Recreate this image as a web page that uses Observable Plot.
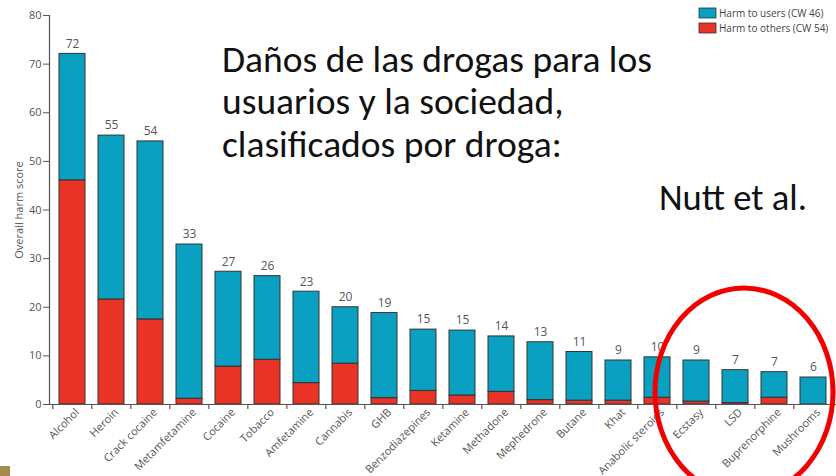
<!DOCTYPE html>
<html>
<head>
<meta charset="utf-8">
<script src="https://cdn.jsdelivr.net/npm/d3@7"></script>
<script src="https://cdn.jsdelivr.net/npm/@observablehq/plot@0.6"></script>
<style>
  html, body { margin: 0; padding: 0; background: #fff; }
  #chart { position: relative; width: 836px; height: 476px; overflow: hidden; }
</style>
</head>
<body>
<div id="chart"></div>
<script>
const drugs = ["Alcohol","Heroin","Crack cocaine","Metamfetamine","Cocaine","Tobacco","Amfetamine","Cannabis","GHB","Benzodiazepines","Ketamine","Methadone","Mephedrone","Butane","Khat","Anabolic steroids","Ecstasy","LSD","Buprenorphine","Mushrooms"];
const harmUsers  = [26.0, 33.7, 36.6, 31.7, 19.5, 17.2, 18.8, 11.6, 17.5, 12.6, 13.35, 11.4, 11.9, 10.0, 8.25, 8.3, 8.45, 6.76, 5.25, 5.55];
const harmOthers = [46.1, 21.6, 17.5, 1.2, 7.8, 9.2, 4.4, 8.4, 1.3, 2.8, 1.85, 2.6, 0.9, 0.8, 0.8, 1.4, 0.6, 0.3, 1.4, 0];
const totalLabels = [72, 55, 54, 33, 27, 26, 23, 20, 19, 15, 15, 14, 13, 11, 9, 10, 9, 7, 7, 6];
const yTicks = [0, 10, 20, 30, 40, 50, 60, 70, 80];
const seriesNames = ["Harm to users (CW 46)", "Harm to others (CW 54)"];
const seriesColors = ["#0aa0c2", "#ea3327"];
const titleLines = ["Daños de las drogas para los", "usuarios y la sociedad,", "clasificados por droga:"];
const authorText = "Nutt et al.";

const rows = [];
drugs.forEach((d, i) => rows.push({drug: d, series: seriesNames[1], value: harmOthers[i]}));
drugs.forEach((d, i) => rows.push({drug: d, series: seriesNames[0], value: harmUsers[i]}));
const totals = drugs.map((d, i) => ({drug: d, total: harmUsers[i] + harmOthers[i], label: String(totalLabels[i])}));

const axisColor = "#555";
const chartFont = "'Open Sans', 'Noto Sans', sans-serif";

const plot = Plot.plot({
  width: 836,
  height: 476,
  marginLeft: 49,
  marginRight: 0,
  marginTop: 15,
  marginBottom: 72,
  style: {fontFamily: chartFont, fontSize: "11px", color: axisColor, background: "transparent", overflow: "visible"},
  x: {domain: drugs, paddingInner: 0.34, paddingOuter: 0.17, align: 0.5},
  y: {domain: [0, 80]},
  color: {domain: seriesNames, range: seriesColors},
  marks: [
    Plot.barY(rows, Plot.stackY({order: seriesNames.slice().reverse(), x: "drug", y: "value", fill: "series", stroke: "#333", strokeWidth: 1})),
    Plot.ruleY([0], {stroke: axisColor, strokeWidth: 1.2}),
    Plot.frame({anchor: "left", stroke: axisColor, strokeWidth: 1.2}),
    Plot.ruleX(drugs, {x: d => d, dx: -787 / 20 / 2, y1: 0, y2: 0, insetBottom: -5, stroke: axisColor, strokeWidth: 1.2}),
    Plot.text(totals, {x: "drug", y: "total", text: "label", dy: -10, fill: "#555", fontSize: 12}),
    Plot.axisY({ticks: yTicks, tickSize: 6, tickPadding: 2, stroke: axisColor, fill: axisColor, fontSize: 11,
      label: "Overall harm score", labelAnchor: "center", labelArrow: "none", labelOffset: 34}),
    Plot.axisX({tickSize: 0, tickRotate: -45, tickPadding: 6, dx: 5, fill: axisColor, fontSize: 11, label: null})
  ]
});

document.getElementById("chart").appendChild(plot);

const svg = d3.select(plot);

// legend (top right)
const lg = svg.append("g").attr("font-family", chartFont).attr("font-size", 10).attr("fill", "#444").attr("text-anchor", "start");
seriesNames.forEach((name, i) => {
  lg.append("rect").attr("x", 699).attr("y", 8 + i * 15).attr("width", 17).attr("height", 10)
    .attr("fill", seriesColors[i]).attr("stroke", "#333").attr("stroke-width", 0.8);
  lg.append("text").attr("x", 719).attr("y", 17 + i * 15).text(name);
});

// slide texts
const slideFont = "Carlito, Calibri, 'Open Sans', sans-serif";
const tg = svg.append("g").attr("font-family", slideFont).attr("font-size", 36).attr("fill", "#111").attr("text-anchor", "start");
const t1 = tg.append("text").attr("x", 0).attr("y", 72).text(titleLines[0]);
tg.append("text").attr("x", 0).attr("y", 114).text(titleLines[1]);
tg.append("text").attr("x", 0).attr("y", 157).text(titleLines[2]);
const k = 430 / t1.node().getComputedTextLength();
tg.attr("transform", `translate(222,0) scale(${k},1)`);

const ag = svg.append("g").attr("font-family", slideFont).attr("font-size", 36).attr("fill", "#111").attr("text-anchor", "start");
const a1 = ag.append("text").attr("x", 0).attr("y", 210).text(authorText);
const ka = 148 / a1.node().getComputedTextLength();
ag.attr("transform", `translate(659,0) scale(${ka},1)`);

// red circle annotation
svg.append("ellipse").attr("cx", 744).attr("cy", 392).attr("rx", 89).attr("ry", 104)
  .attr("fill", "none").attr("stroke", "#f20000").attr("stroke-width", 5);

// slide corner decoration
svg.append("rect").attr("x", 0).attr("y", 466).attr("width", 10).attr("height", 10).attr("fill", "#a88a4e");
</script>
</body>
</html>
